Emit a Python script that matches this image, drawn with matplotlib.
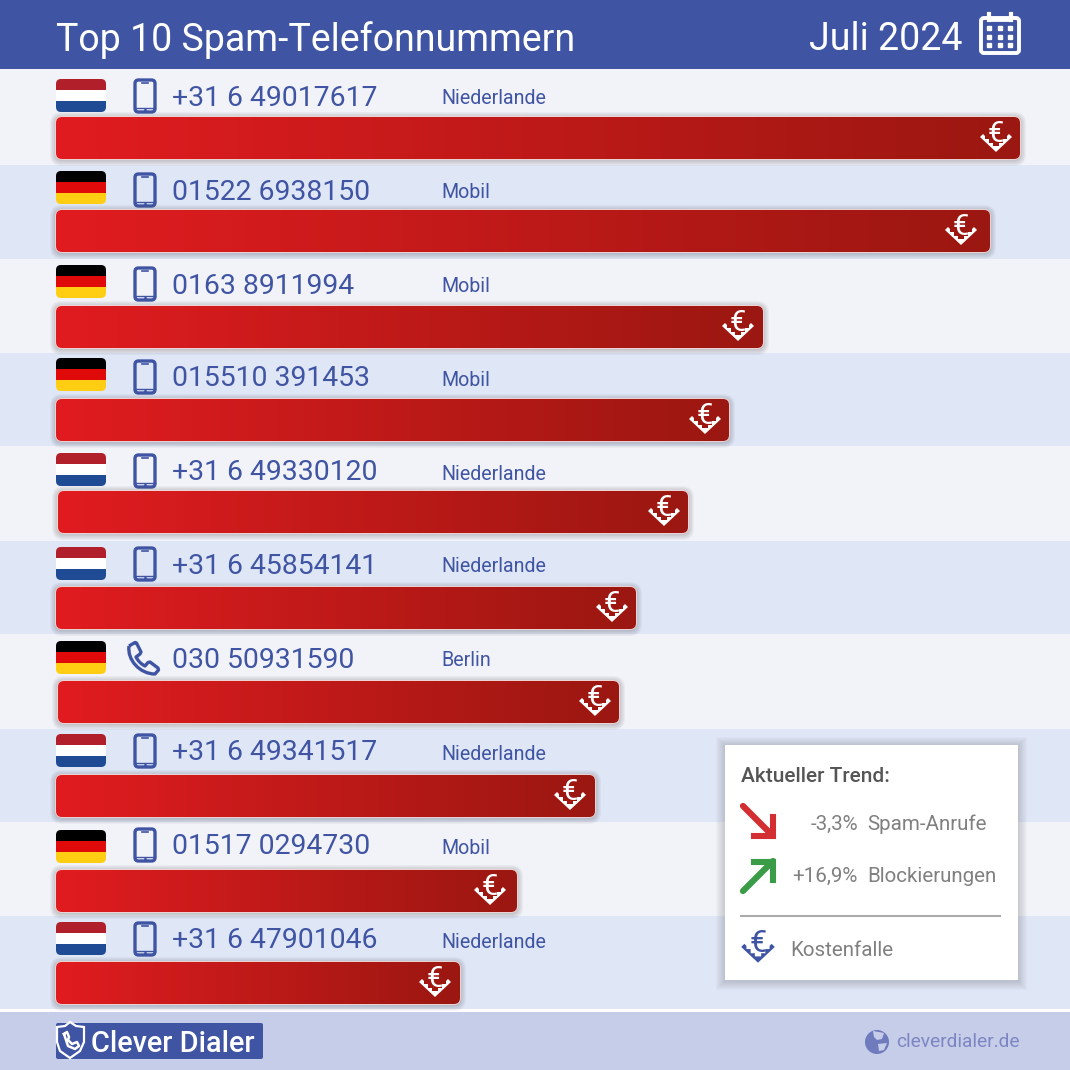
# Top 10 numeros de spam do mes
import numpy as np
import matplotlib.pyplot as plt
from matplotlib.patches import FancyBboxPatch, Rectangle, Circle, Polygon, PathPatch
from matplotlib.path import Path
from matplotlib.colors import LinearSegmentedColormap

plt.rcParams['font.family'] = ['Roboto', 'DejaVu Sans']

numeros = ['+31 6 49017617', '01522 6938150', '0163 8911994', '015510 391453', '+31 6 49330120',
           '+31 6 45854141', '030 50931590', '+31 6 49341517', '01517 0294730', '+31 6 47901046']
origens = ['Niederlande', 'Mobil', 'Mobil', 'Mobil', 'Niederlande',
           'Niederlande', 'Berlin', 'Niederlande', 'Mobil', 'Niederlande']
paises = ['NL', 'DE', 'DE', 'DE', 'NL', 'NL', 'DE', 'NL', 'DE', 'NL']
tipos = ['m', 'm', 'm', 'm', 'm', 'm', 'f', 'm', 'm', 'm']
valores = np.array([964, 934, 707, 673, 630, 580, 561, 539, 461, 404])
trend_valores = ['-3,3%', '+16,9%']
trend_nomes = ['Spam-Anrufe', 'Blockierungen']

# posicoes em pixels da imagem
y_faixa = np.array([69, 165, 259, 353, 446, 541, 634, 729, 822, 916, 1009])
y_barra = np.array([117, 210, 306, 399, 491, 587, 681, 775, 870, 962])
y_bandeira = np.array([79, 171, 265, 358, 453, 547, 641, 734, 830, 922])
y_texto = np.array([98, 192, 286, 379, 473, 566, 660, 753, 847, 941])
x_barra = np.array([56, 56, 56, 56, 58, 56, 58, 56, 56, 56])
x_icone = np.array([996, 961, 738, 705, 664, 612, 595, 570, 490, 435])

azul = '#3f54a3'
cm = LinearSegmentedColormap.from_list('barra', ['#e11c20', '#9b1711'])


def caixa(x, y, l, h, r, **kw):
    return FancyBboxPatch((x + r, y + r), l - 2*r, h - 2*r, boxstyle='round,pad=%g,rounding_size=%g' % (r, r), **kw)


def sombra(x, y, l, h, r, dy=1):
    for k in range(6, 0, -1):
        plt.gca().add_patch(caixa(x - k, y - k + dy, l + 2*k, h + 2*k, r + k, fc='#50505a', ec='none', alpha=0.05))


def bandeira(x, y, pais):
    cores = {'NL': ['#b01f2a', '#ffffff', '#1f4a94'], 'DE': ['#000000', '#e00a0a', '#ffce12']}[pais]
    borda = caixa(x, y, 50, 33, 5, fc='none', ec='none')
    plt.gca().add_patch(borda)
    for k in range(3):
        faixa = Rectangle((x, y + 11*k), 50, 11, fc=cores[k], ec='none')
        plt.gca().add_patch(faixa)
        faixa.set_clip_path(borda)


def celular(x, y):
    plt.gca().add_patch(caixa(x, y, 20, 32, 3.5, fc='none', ec=azul, lw=2.4))
    plt.plot([x + 7, x + 13], [y + 2.5, y + 2.5], color=azul, lw=1.2)
    plt.plot([x, x + 20], [y + 28, y + 28], color=azul, lw=1)
    plt.plot([x + 10], [y + 29.5], '.', color=azul, ms=2.5)


def telefone(x, y):
    vertices = [(3, 4), (9, 0.5), (10.5, 1), (15, 10), (14, 12), (10, 15), (13, 21), (19, 24), (22, 20.5), (24, 20),
                (32, 26), (32.5, 28), (29, 32), (14, 32), (1, 18), (3, 4)]
    codigos = [Path.MOVETO, Path.LINETO, Path.LINETO, Path.LINETO, Path.LINETO, Path.LINETO, Path.CURVE3, Path.CURVE3,
               Path.LINETO, Path.LINETO, Path.LINETO, Path.LINETO, Path.LINETO, Path.CURVE4, Path.CURVE4, Path.CURVE4]
    vertices = np.array(vertices) + [x, y]
    plt.gca().add_patch(PathPatch(Path(vertices, codigos), fc='none', ec=azul, lw=2.4, joinstyle='round'))


def armadilha(x, y, cor, s=1.0, z=5):
    plt.text(x, y - 4*s, '€', color=cor, fontsize=21*s, ha='center', va='center', zorder=z)
    # V com dentes na parte de cima
    fora = [(-16, -1), (0, 14), (16, -1)]
    dentes = [(13, -4), (11, -2), (11, 1), (7, 1), (7, 5), (3, 5), (3, 8), (0, 8), (-3, 8), (-3, 5), (-7, 5), (-7, 1), (-11, 1), (-11, -2), (-13, -4)]
    pontos = np.array(fora + dentes)*s + [x, y]
    plt.gca().add_patch(Polygon(pontos, fc=cor, ec='none', zorder=z))


fig = plt.figure(figsize=(10.7, 10.7), dpi=100)
ax = fig.add_axes([0, 0, 1, 1])
plt.xlim(0, 1070)
plt.ylim(1070, 0)
plt.axis('off')
ax.set_autoscale_on(False)

# cabecalho e rodape
ax.add_patch(Rectangle((0, 0), 1070, 69, fc=azul, ec='none'))
ax.add_patch(Rectangle((0, 1009), 1070, 3, fc='#ffffff', ec='none'))
ax.add_patch(Rectangle((0, 1012), 1070, 58, fc='#c5cde9', ec='none'))
plt.text(56, 40, 'Top 10 Spam-Telefonnummern', color='white', fontsize=27, ha='left', va='center')
plt.text(809, 40, 'Juli 2024', color='white', fontsize=27, ha='left', va='center')

# calendario
ax.add_patch(caixa(981, 18, 38, 35, 3, fc='none', ec='white', lw=2.8))
plt.plot([989, 989], [14, 20], color='white', lw=3)
plt.plot([1011, 1011], [14, 20], color='white', lw=3)
plt.plot([989, 1011], [20, 20], color='white', lw=2)
xd, yd = np.meshgrid(np.linspace(989, 1010, 3), np.linspace(28, 45, 3))
plt.plot(xd.ravel(), yd.ravel(), 's', color='white', ms=3.2)

for i in range(10):
    ax.add_patch(Rectangle((0, y_faixa[i]), 1070, y_faixa[i + 1] - y_faixa[i],
                           fc='#f2f3f8' if i % 2 == 0 else '#dfe6f5', ec='none'))

for i in range(10):
    bandeira(56, y_bandeira[i], paises[i])
    if tipos[i] == 'm':
        celular(135, y_texto[i] - 18)
    else:
        telefone(126, y_texto[i] - 18)
    plt.text(172, y_texto[i], numeros[i], color=azul, fontsize=20.4, ha='left', va='center', zorder=5)
    plt.text(441.5, y_texto[i] + 1, origens[i], color=azul, fontsize=14.1, ha='left', va='center', zorder=5)

    sombra(x_barra[i], y_barra[i], valores[i], 42, 6)
    contorno = caixa(x_barra[i], y_barra[i], valores[i], 42, 6, fc='#e11c20', ec='#f4d6d4', lw=1.2)
    ax.add_patch(contorno)
    gradiente = plt.imshow(np.linspace(0, 1, 256).reshape(1, -1), cmap=cm, aspect='auto', zorder=1.5,
                           extent=(x_barra[i], x_barra[i] + valores[i], y_barra[i] + 42, y_barra[i]))
    gradiente.set_clip_path(caixa(x_barra[i], y_barra[i], valores[i], 42, 6, transform=ax.transData))
    armadilha(x_icone[i], y_barra[i] + 21, 'white')

# quadro da tendencia
for k in range(9, 0, -1):
    ax.add_patch(Rectangle((725 - k, 745 - k + 1), 293 + 2*k, 235 + 2*k, fc='#50505a', ec='none', alpha=0.028, zorder=5.5))
ax.add_patch(Rectangle((725, 745), 293, 235, fc='white', ec='none', zorder=6))
plt.text(741, 776, 'Aktueller Trend:', color='#555555', fontsize=15, fontweight='medium', ha='left', va='center', zorder=7)
for i in range(2):
    plt.text(858, 824 + 52.5*i, trend_valores[i], color='#808080', fontsize=14.8, ha='right', va='center', zorder=7)
    plt.text(867, 824 + 52.5*i, trend_nomes[i], color='#808080', fontsize=14.8, ha='left', va='center', zorder=7)
plt.plot([743, 773], [806, 836], color='#d32f33', lw=4.5, zorder=7, solid_capstyle='round')
ax.add_patch(Polygon([(752, 834), (771, 834), (771, 815), (775, 815), (775, 838), (752, 838)], fc='#d32f33', ec='#d32f33', lw=1.5, zorder=7))
plt.plot([743, 773], [891, 861], color='#3a9c47', lw=4.5, zorder=7, solid_capstyle='round')
ax.add_patch(Polygon([(752, 860), (775, 860), (775, 882), (771, 882), (771, 864), (752, 864)], fc='#3a9c47', ec='#3a9c47', lw=1.5, zorder=7))
plt.plot([741, 1000], [915.5, 915.5], color='#aaaaaa', lw=1.5, zorder=7)
plt.text(790, 950, 'Kostenfalle', color='#808080', fontsize=14.8, ha='left', va='center', zorder=7)
armadilha(758, 948, azul, 1.05, z=7)

# logotipo
ax.add_patch(caixa(56, 1023, 207, 36, 2, fc=azul, ec='none'))
escudo = Polygon([(70, 1022), (76, 1026), (84, 1027), (84, 1042), (80, 1051), (70, 1058), (60, 1051), (57, 1042), (57, 1027), (65, 1026)],
                 fc=azul, ec='white', lw=1.6, zorder=5)
ax.add_patch(escudo)
telefone_x = np.array([64, 67, 69, 68, 72, 77, 79, 75, 68, 64])
telefone_y = np.array([1034, 1032, 1037, 1040, 1044, 1042, 1046, 1049, 1046, 1034])
plt.plot(telefone_x, telefone_y, color='white', lw=1.8, zorder=6)
plt.text(91, 1044, 'Clever Dialer', color='white', fontsize=20.8, fontweight='medium', ha='left', va='center', zorder=6)
ax.add_patch(Circle((877, 1042), 12, fc='#6f7bbd', ec='none', zorder=5))
ax.add_patch(Polygon([(873, 1031), (884, 1033), (882, 1039), (877, 1040), (874, 1037)], fc='#c5cde9', ec='none', zorder=6))
ax.add_patch(Polygon([(878, 1044), (887, 1043), (884, 1050), (879, 1051)], fc='#c5cde9', ec='none', zorder=6))
plt.text(896, 1042, 'cleverdialer.de', color='#7d86c2', fontsize=13.8, ha='left', va='center', zorder=6)

plt.savefig('out.png', dpi=100)
plt.close('all')
